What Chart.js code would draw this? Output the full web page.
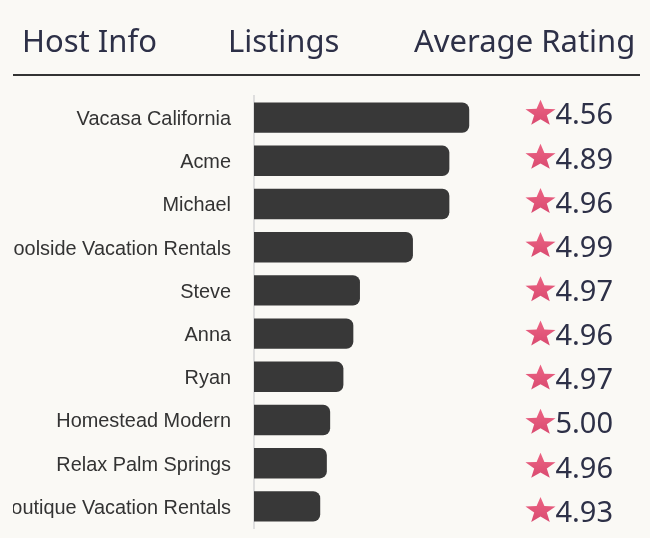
<!DOCTYPE html>
<html>
<head>
<meta charset="utf-8">
<script src="https://cdn.jsdelivr.net/npm/chart.js@4.4.1/dist/chart.umd.min.js"></script>
<style>
  html, body { margin: 0; padding: 0; background: #faf9f5; }
  body { width: 650px; height: 538px; overflow: hidden; position: relative; }
  #c { position: absolute; left: 13px; top: 0; }
</style>
</head>
<body>
<canvas id="c" width="627" height="538"></canvas>
<script>
// ---- data ----
const headers = ['Host Info', 'Listings', 'Average Rating'];
const hosts = ['Vacasa California', 'Acme', 'Michael', 'Poolside Vacation Rentals', 'Steve',
               'Anna', 'Ryan', 'Homestead Modern', 'Relax Palm Springs', 'Boutique Vacation Rentals'];
const listings = [65, 59, 59, 48, 32, 30, 27, 23, 22, 20];
const ratings = [4.56, 4.89, 4.96, 4.99, 4.97, 4.96, 4.97, 5.00, 4.96, 4.93];

const TEXT = '#2d3047';

function drawStar(ctx, cx, cy, R, r, sy) {
  ctx.beginPath();
  for (let k = 0; k < 10; k++) {
    const rad = k % 2 === 0 ? R : r;
    const a = -Math.PI / 2 + k * Math.PI / 5;
    const x = cx + rad * Math.cos(a), y = cy + rad * Math.sin(a) * sy;
    if (k === 0) ctx.moveTo(x, y); else ctx.lineTo(x, y);
  }
  ctx.closePath();
  ctx.fill();
}

const decor = {
  id: 'decor',
  afterDraw(chart) {
    const ctx = chart.ctx;
    const left = chart.chartArea.left;
    ctx.save();
    // header
    ctx.fillStyle = TEXT;
    ctx.font = '31px "Noto Sans"';
    ctx.textBaseline = 'alphabetic';
    ctx.textAlign = 'left';
    const hx = [9, 215, 401];
    headers.forEach((h, i) => ctx.fillText(h, hx[i], 52));
    ctx.fillStyle = '#333333';
    ctx.fillRect(0, 74, 627, 2);
    // ratings column (its rows are spaced slightly wider than the bars)
    const ys = chart.scales.y;
    ratings.forEach((v, i) => {
      const dc = ys.getPixelForValue(i) - 3.5 + 0.94 * i;
      const g = ctx.createLinearGradient(0, dc - 14, 0, dc + 11);
      g.addColorStop(0, '#ec6383');
      g.addColorStop(1, '#d94a70');
      ctx.fillStyle = g;
      drawStar(ctx, left + 286.5, dc - 0.6, 15.8, 15.8 * 0.42, 0.875);
      ctx.fillStyle = TEXT;
      ctx.font = '29px "Noto Sans"';
      ctx.textAlign = 'left';
      ctx.fillText(v.toFixed(2), left + 301.5, dc + 10.3);
    });
    ctx.restore();
  }
};

new Chart(document.getElementById('c'), {
  type: 'bar',
  data: {
    labels: hosts,
    datasets: [{
      data: listings,
      backgroundColor: '#383838',
      borderRadius: 7,
      borderSkipped: 'start',
      barPercentage: 0.704,
      categoryPercentage: 1
    }]
  },
  options: {
    indexAxis: 'y',
    responsive: false,
    devicePixelRatio: 1,
    animation: false,
    layout: { padding: { top: 96, bottom: 10, left: 0, right: 88 } },
    plugins: { legend: { display: false }, tooltip: { enabled: false } },
    scales: {
      x: { display: false, min: 0, max: 90 },
      y: {
        grid: { display: false, drawTicks: false },
        border: { display: true, color: '#dedede', width: 2 },
        ticks: { color: '#333333', font: { family: '"Liberation Sans", Arial', size: 19.9 }, padding: 23, labelOffset: 2 },
        afterFit(scale) { scale.width = 241; scale.paddingTop = 0; scale.paddingBottom = 0; }
      }
    }
  },
  plugins: [decor]
});
</script>
</body>
</html>
